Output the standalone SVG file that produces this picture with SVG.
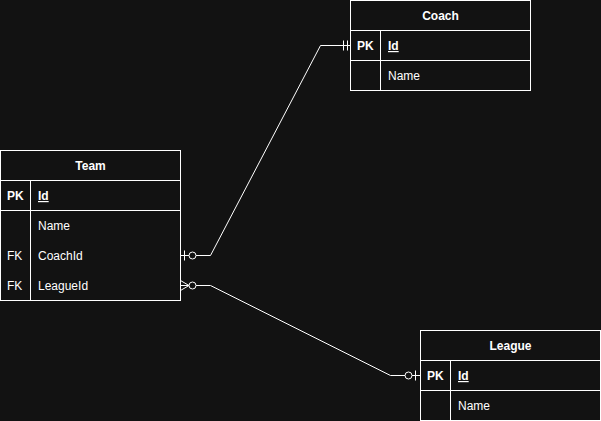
<svg xmlns="http://www.w3.org/2000/svg" width="601" height="421" viewBox="0 0 601 421">
<style>
.box{fill:#121212;stroke:#ffffff;stroke-width:1}
.ln{stroke:#ffffff;stroke-width:1;fill:none}
text{font-family:"Liberation Sans",Arial,sans-serif;font-size:12px;fill:#ffffff}
.h{font-weight:bold;text-anchor:middle}
.b{font-weight:bold}
.u{text-decoration:underline}
.c{fill:#121212;stroke:#ffffff;stroke-width:1}
</style>
<rect width="601" height="421" fill="#121212"/>
<g id="connectors">
<path class="ln" d="M180.5,255.5 H210.5 L320.5,45.5 H350.5"/>
<path class="ln" d="M184.5,250.5 V260.5"/>
<circle class="c" cx="192.5" cy="255.5" r="3.5"/>
<path class="ln" d="M343.5,40.5 V50.5 M347.5,40.5 V50.5"/>
<path class="ln" d="M180.5,285.5 H210.5 L390.5,375.5 H420.5"/>
<path class="ln" d="M180.5,280.5 L189,285.5 L180.5,290.5"/>
<circle class="c" cx="192.5" cy="285.5" r="3.5"/>
<circle class="c" cx="408.5" cy="375.5" r="3.5"/>
<path class="ln" d="M415.5,370.5 V380.5"/>
</g>
<g id="team">
<rect class="box" x="0.5" y="150.5" width="180" height="150"/>
<path class="ln" d="M0.5,180.5 H180.5 M0.5,210.5 H180.5 M30.5,180.5 V300.5"/>
<text class="h" x="90.5" y="170">Team</text>
<text class="b" x="7" y="200">PK</text>
<text class="b u" x="38" y="200">Id</text>
<text x="38" y="230">Name</text>
<text x="7" y="260">FK</text>
<text x="38" y="260">CoachId</text>
<text x="7" y="290">FK</text>
<text x="38" y="290">LeagueId</text>
</g>
<g id="coach">
<rect class="box" x="350.5" y="0.5" width="180" height="90"/>
<path class="ln" d="M350.5,30.5 H530.5 M350.5,60.5 H530.5 M380.5,30.5 V90.5"/>
<text class="h" x="440.5" y="20">Coach</text>
<text class="b" x="357" y="50">PK</text>
<text class="b u" x="388" y="50">Id</text>
<text x="388" y="80">Name</text>
</g>
<g id="league">
<rect class="box" x="420.5" y="330.5" width="180" height="90"/>
<path class="ln" d="M420.5,360.5 H600.5 M420.5,390.5 H600.5 M450.5,360.5 V420.5"/>
<text class="h" x="510.5" y="350">League</text>
<text class="b" x="427" y="380">PK</text>
<text class="b u" x="458" y="380">Id</text>
<text x="458" y="410">Name</text>
</g>
</svg>
